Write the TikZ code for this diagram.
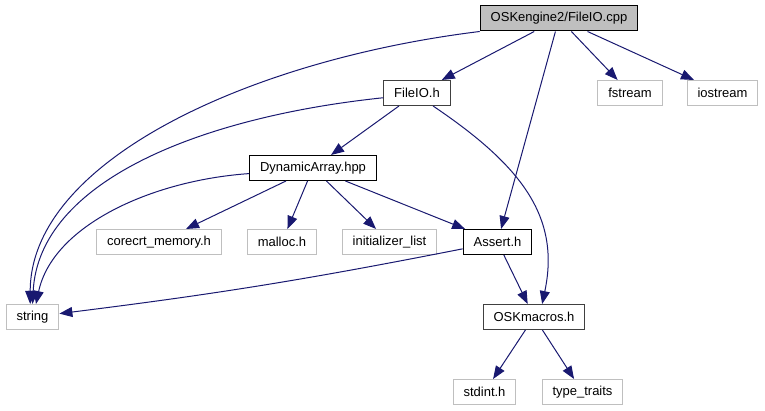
\documentclass[tikz,border=0pt]{standalone}
\usepackage{fontspec}
\setmainfont{Liberation Sans}
\usepackage{tikz}
\usetikzlibrary{positioning, arrows.meta}
\usepackage{xcolor}
\definecolor{edgeblue}{RGB}{25,25,112}
\definecolor{extgray}{RGB}{191,191,191}
\definecolor{rootgray}{RGB}{191,191,191}
\definecolor{darkborder}{RGB}{64,64,64}

\tikzset{
  file/.style={draw=black, line width=1pt, rectangle, minimum height=25pt,
    inner xsep=10.5pt, inner ysep=0pt, font=\fontsize{13pt}{15pt}\selectfont},
  darkfile/.style={file, draw=darkborder},
  extfile/.style={file, draw=extgray},
  rootfile/.style={file, fill=rootgray},
  dep/.style={color=edgeblue, line width=1pt, -{Triangle[length=13pt, width=10pt]}},
}

\begin{document}
\begin{tikzpicture}[x=1pt, y=1pt, on grid]
   \useasboundingbox (0,0) rectangle (765,-411);
   \node[rootfile] (cpp) at (559,-18.5) {OSKengine2/FileIO.cpp};
   \node[darkfile] (fileio) [below left=74.5pt and 142pt of cpp] {FileIO.h};
   \node[extfile] (fstream) [below right=74.5pt and 71pt of cpp] {fstream};
   \node[extfile] (iostream) [below right=74.5pt and 163.5pt of cpp] {iostream};
   \node[file] (dynarr) [below left=75pt and 104pt of fileio] {DynamicArray.hpp};
   \node[extfile] (corecrt) [below left=74pt and 154pt of dynarr] {corecrt\_memory.h};
   \node[extfile] (malloc) [below left=74pt and 31pt of dynarr] {malloc.h};
   \node[extfile] (initlist) [below right=74pt and 76.5pt of dynarr] {initializer\_list};
   \node[file] (assert) [below right=74pt and 184.5pt of dynarr] {Assert.h};
   \node[extfile] (string) [below left=75pt and 126.5pt of corecrt] {string};
   \node[darkfile] (oskmacros) [below right=75pt and 36.5pt of assert] {OSKmacros.h};
   \node[extfile] (stdint) [below left=75pt and 49.5pt of oskmacros] {stdint.h};
   \node[extfile] (typetraits) [below right=75pt and 48.5pt of oskmacros] {type\_traits};
   \path[dep]
    (cpp) edge (fileio)
    (cpp) edge (fstream)
    (cpp) edge (iostream)
    (cpp) edge (assert)
    (cpp.south west) edge [out=187, in=90, out distance=232pt, in distance=143pt] (string.100)
    (fileio) edge (dynarr)
    (fileio.188) edge [out=186, in=87, out distance=184pt, in distance=123pt] (string.north)
    (fileio.-39) edge [out=-34, in=78, out distance=105pt, in distance=90pt] (oskmacros.58)
    (dynarr) edge (corecrt)
    (dynarr) edge (malloc)
    (dynarr) edge (initlist)
    (dynarr) edge (assert)
    (dynarr.185) edge [out=184, in=78, out distance=98pt, in distance=80pt] (string.75)
    (assert) edge [bend left=2] (string)
    (assert) edge (oskmacros)
    (oskmacros) edge (stdint)
    (oskmacros) edge (typetraits)
    ;
\end{tikzpicture}
\end{document}
